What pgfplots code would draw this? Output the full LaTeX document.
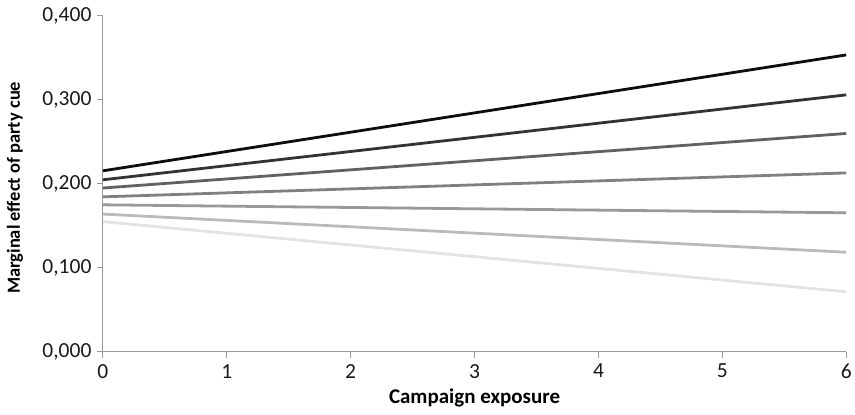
\documentclass[border=0pt]{standalone}
\usepackage{pgfplots}
\pgfplotsset{compat=1.18}
\usepackage{fontspec}
\setmainfont{Carlito}
\begin{document}
\begin{tikzpicture}
\begin{axis}[
  name=ax,
  scale only axis,
  width=744pt, height=336pt,
  xmin=0, xmax=6, ymin=0, ymax=0.4,
  axis lines*=left,
  axis line style={draw=gray!80, line width=1pt},
  xtick={0,1,2,3,4,5,6},
  ytick={0,0.1,0.2,0.3,0.4},
  tick style={draw=gray!80, line width=1pt},
  tick align=outside,
  major tick length=6pt,
  /pgf/number format/assume math mode=true,
  yticklabel style={/pgf/number format/fixed, /pgf/number format/fixed zerofill, /pgf/number format/precision=3, /pgf/number format/use comma, xshift=-2pt},
  ticklabel style={font=\fontsize{21.5}{25}\selectfont, text=black!90},
  xticklabel style={yshift=-3pt},
  xlabel={\textbf{Campaign exposure}},
  ylabel={\textbf{Marginal effect of party cue}},
  xlabel style={font=\fontsize{21}{24}\selectfont, at={(axis description cs:0.5,0)}, anchor=center, yshift=-46pt},
  ylabel style={font=\fontsize{18.5}{22}\selectfont, at={(axis description cs:0,0.5)}, anchor=center, yshift=88pt, xshift=-4pt},
  clip=false,
]
\addplot[no marks, line width=2.8pt, color=black!95] coordinates {(0,0.2155) (6,0.3536)};
\addplot[no marks, line width=2.8pt, color=black!80] coordinates {(0,0.2048) (6,0.3060)};
\addplot[no marks, line width=2.8pt, color=black!62] coordinates {(0,0.1950) (6,0.2600)};
\addplot[no marks, line width=2.8pt, color=black!50] coordinates {(0,0.1845) (6,0.2130)};
\addplot[no marks, line width=2.8pt, color=black!40] coordinates {(0,0.1750) (6,0.1655)};
\addplot[no marks, line width=2.8pt, color=black!27] coordinates {(0,0.1640) (6,0.1185)};
\addplot[no marks, line width=2.8pt, color=black!11] coordinates {(0,0.1550) (6,0.0714)};
\end{axis}
\path ([xshift=-103pt,yshift=-63pt]ax.south west) rectangle ([xshift=8pt,yshift=16pt]ax.north east);
\end{tikzpicture}
\end{document}
